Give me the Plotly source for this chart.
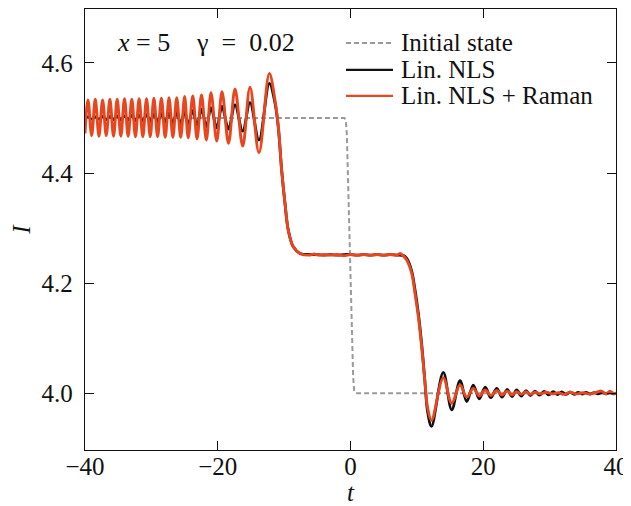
import plotly.graph_objects as go

# ---------------- data ----------------
# Initial state (step)
t_init = [-40, -0.9, -0.7, -0.55, 0.4, 0.55, 0.8, 40]
I_init = [4.5, 4.5, 4.495, 4.47, 4.03, 4.005, 4.0, 4.0]

# Lin. NLS + Raman (red) - extrema and shape points
t_raman = [-40.0,
           -39.55, -39.0, -38.45, -37.9, -37.35, -36.8, -36.25, -35.7, -35.15, -34.6,
           -34.05, -33.5, -32.95, -32.4, -31.85, -31.29, -30.73, -30.18, -29.62, -29.06,
           -28.49, -27.92, -27.34, -26.76, -26.18, -25.58, -24.99, -24.45, -23.76, -23.12,
           -22.45, -21.72, -21.02, -20.15, -19.36, -18.38, -17.40, -16.24, -15.14, -13.79,
           -12.23, -11.37, -10.87, -10.37, -9.87, -9.37, -8.62, -7.61,
           -6.1, -5.5, -4.8, -4.0, -3.0, -2.0, -1.0, 0.0, 1.0, 2.0, 3.0, 4.0, 5.0, 6.0, 7.0, 7.5, 8.0,
           8.47, 9.22, 9.72, 10.22, 10.72, 11.22, 11.6, 12.2,
           13.98, 15.25, 16.5, 17.51, 18.5, 19.4, 20.3, 21.15, 22.03, 22.83, 23.62, 24.33,
           25.04, 25.74, 26.44, 27.12, 27.8, 28.6, 29.5, 30.4, 31.3, 32.2, 33.1, 34.0,
           35.0, 36.0, 36.9, 37.8, 38.5, 39.1, 39.6, 40.0]
I_raman = [4.472,
           4.533, 4.468, 4.534, 4.467, 4.533, 4.468, 4.534, 4.467, 4.534, 4.467,
           4.535, 4.467, 4.534, 4.466, 4.535, 4.466, 4.535, 4.466, 4.536, 4.466,
           4.536, 4.465, 4.537, 4.465, 4.537, 4.465, 4.539, 4.464, 4.540, 4.462,
           4.542, 4.460, 4.546, 4.458, 4.548, 4.454, 4.553, 4.449, 4.556, 4.437,
           4.581, 4.532, 4.484, 4.405, 4.345, 4.296, 4.266, 4.254,
           4.251, 4.253, 4.251, 4.252, 4.251, 4.252, 4.250, 4.252, 4.251, 4.252, 4.251, 4.252, 4.251, 4.252, 4.251, 4.254, 4.249,
           4.242, 4.218, 4.181, 4.139, 4.085, 4.020, 3.975, 3.951,
           4.028, 3.982, 4.015, 3.993, 4.009, 3.995, 4.006, 3.996, 4.005, 3.997, 4.004, 3.997,
           4.003, 3.998, 4.003, 3.998, 4.002, 3.999, 4.002, 3.999, 4.001, 3.998, 4.002, 3.999,
           4.001, 3.999, 4.001, 4.004, 3.999, 4.004, 4.000, 4.000]

# Lin. NLS (black)
t_nls = [-40.0,
         -39.55, -39.0, -38.45, -37.9, -37.35, -36.8, -36.25, -35.7, -35.15, -34.6,
         -34.05, -33.5, -32.95, -32.4, -31.85, -31.29, -30.73, -30.18, -29.62, -29.06,
         -28.49, -27.92, -27.34, -26.76, -26.18, -25.58, -24.99, -24.45, -23.76, -23.12,
         -22.45, -21.72, -21.02, -20.15, -19.36, -18.38, -17.40, -16.24, -15.14, -13.79,
         -12.23, -11.37, -10.87, -10.37, -9.87, -9.37, -8.62, -7.61,
         -6.1, -5.0, -4.0, -3.0, -2.0, -1.0, 0.0, 1.0, 2.0, 3.0, 4.0, 5.0, 6.0, 7.0, 8.0,
         8.47, 9.22, 9.72, 10.22, 10.72, 11.22, 11.6, 12.2,
         13.98, 15.25, 16.5, 17.51, 18.5, 19.4, 20.3, 21.15, 22.03, 22.83, 23.62, 24.33,
         25.04, 25.74, 26.44, 27.12, 27.8, 28.48, 29.15, 29.85, 30.55, 31.19, 31.82, 32.45,
         33.07, 33.7, 34.3, 34.9, 35.5, 36.1, 36.7, 37.3, 37.9, 38.5, 39.1, 39.7, 40.0]
I_nls = [4.499,
         4.502, 4.498, 4.502, 4.498, 4.503, 4.497, 4.503, 4.497, 4.504, 4.496,
         4.504, 4.496, 4.505, 4.495, 4.505, 4.495, 4.506, 4.494, 4.507, 4.493,
         4.508, 4.492, 4.509, 4.491, 4.510, 4.490, 4.512, 4.488, 4.514, 4.486,
         4.516, 4.484, 4.519, 4.482, 4.521, 4.480, 4.524, 4.476, 4.528, 4.460,
         4.563, 4.527, 4.482, 4.405, 4.345, 4.296, 4.266, 4.254,
         4.252, 4.252, 4.251, 4.252, 4.251, 4.252, 4.252, 4.251, 4.252, 4.251, 4.252, 4.251, 4.252, 4.251, 4.250,
         4.245, 4.222, 4.188, 4.145, 4.090, 4.020, 3.968, 3.940,
         4.038, 3.970, 4.023, 3.985, 4.015, 3.990, 4.011, 3.992, 4.009, 3.993, 4.007, 3.994,
         4.006, 3.995, 4.005, 3.996, 4.004, 3.9965, 4.0035, 3.997, 4.003, 3.9975, 4.0025, 3.998,
         4.002, 3.9982, 4.0018, 3.9985, 4.0015, 3.9987, 4.0013, 3.999, 4.001, 3.999, 4.001, 3.999, 4.000]

x_ticks = [-40, -20, 0, 20, 40]
y_ticks = [4.0, 4.2, 4.4, 4.6]
legend_names = ["Initial state", "Lin. NLS", "Lin. NLS + Raman"]

# ---------------- styles ----------------
FONT = "'Liberation Serif', 'Times New Roman', Times, 'DejaVu Serif', serif"
C_INIT = "#9a9a9a"
C_NLS = "#111111"
C_RAMAN = "#e8461e"

fig = go.Figure()
fig.add_trace(go.Scatter(x=t_init, y=I_init, mode="lines", name=legend_names[0],
                         line=dict(color=C_INIT, width=2, dash="5px,3px"), showlegend=False))
fig.add_trace(go.Scatter(x=t_nls, y=I_nls, mode="lines", name=legend_names[1],
                         line=dict(color=C_NLS, width=2.8, shape="spline", smoothing=1), showlegend=False))
fig.add_trace(go.Scatter(x=t_raman, y=I_raman, mode="lines", name=legend_names[2],
                         line=dict(color=C_RAMAN, width=2.9, shape="spline", smoothing=1), showlegend=False))

# legend drawn in paper coordinates (layout only)
leg_x0, leg_x1, leg_tx = 0.4915, 0.580, 0.592
leg_y = [0.923, 0.862, 0.803]
leg_styles = [dict(color=C_INIT, width=2, dash="5px,3px"),
              dict(color=C_NLS, width=2.2),
              dict(color=C_RAMAN, width=2.2)]
shapes = []
annotations = []
for name, yy, st in zip(legend_names, leg_y, leg_styles):
    shapes.append(dict(type="line", xref="paper", yref="paper", x0=leg_x0, x1=leg_x1,
                       y0=yy, y1=yy, line=st))
    annotations.append(dict(xref="paper", yref="paper", x=leg_tx, y=yy, text=name,
                            showarrow=False, xanchor="left", yanchor="middle",
                            font=dict(family=FONT, size=25, color="#111")))
NB = "\u00a0"
annotations.append(dict(xref="paper", yref="paper", x=0.057, y=0.923,
                        text="<i>x</i>" + NB + "=" + NB + "5",
                        showarrow=False, xanchor="left", yanchor="middle",
                        font=dict(family=FONT, size=26, color="#111")))
annotations.append(dict(xref="paper", yref="paper", x=0.2055, y=0.923,
                        text="γ" + NB * 2 + "=" + NB * 2 + "0.02",
                        showarrow=False, xanchor="left", yanchor="middle",
                        font=dict(family=FONT, size=26, color="#111")))

axis_common = dict(showline=True, linecolor="#111", linewidth=1.3, mirror="allticks",
                   ticks="inside", ticklen=9, tickwidth=1.3, tickcolor="#111",
                   showgrid=False, zeroline=False, automargin=False,
                   tickfont=dict(family=FONT, size=25, color="#111"))

# the page body has an 8 px offset, so the figure is sized to the remaining window
fig.update_layout(
    width=623, height=498,
    margin=dict(l=77, r=15, t=1, b=56),
    paper_bgcolor="white", plot_bgcolor="white",
    font=dict(family=FONT, size=24, color="#111"),
    showlegend=False,
    shapes=shapes, annotations=annotations,
    xaxis=dict(range=[-40, 40], tickvals=x_ticks, ticklabelstandoff=-6,
               title=dict(text="<i>t</i>", font=dict(family=FONT, size=25), standoff=0),
               **axis_common),
    yaxis=dict(range=[3.897, 4.698], tickvals=y_ticks, tickformat=".1f",
               ticklabelstandoff=6,
               title=dict(text="<i>I</i>", font=dict(family=FONT, size=25), standoff=8),
               **axis_common),
)

fig.write_html("out.html")
